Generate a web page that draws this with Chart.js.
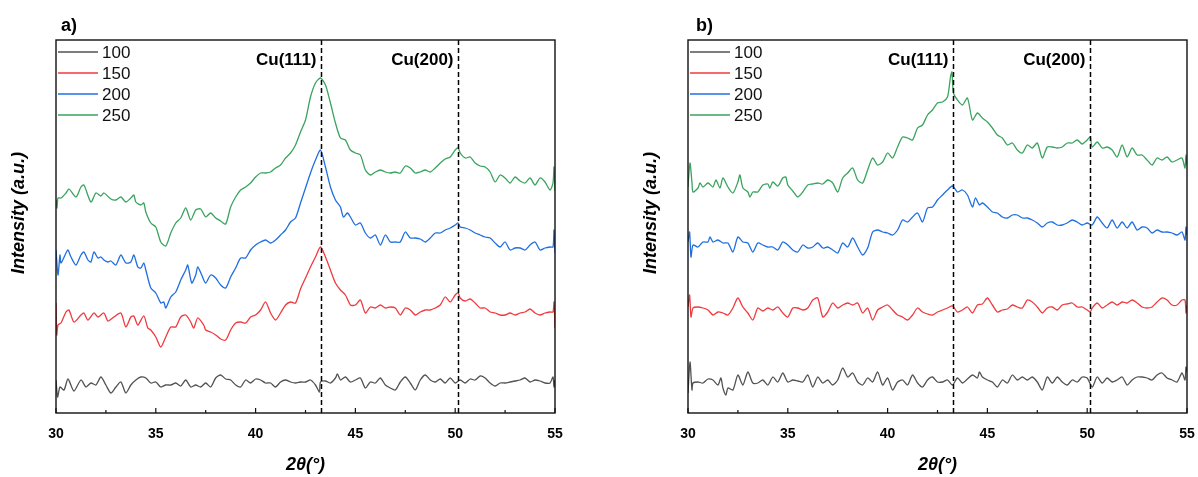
<!DOCTYPE html>
<html><head><meta charset="utf-8">
<script src="https://cdn.jsdelivr.net/npm/chart.js@4.4.1/dist/chart.umd.min.js"></script>
<style>
html,body{margin:0;padding:0;background:#fff;width:1198px;height:477px;overflow:hidden}
#wa{position:absolute;left:0;top:0;width:600px;height:477px}
#wb{position:absolute;left:600px;top:0;width:598px;height:477px}
</style></head><body>
<div id="wa"><canvas id="ca" width="600" height="477"></canvas></div>
<div id="wb"><canvas id="cb" width="598" height="477"></canvas></div>
<script>
// ---------- data ----------
const xTicksMajor = [30, 35, 40, 45, 50, 55];
const seriesNames = ['100', '150', '200', '250'];
const seriesColors = ['#525252', '#f03a3e', '#1f6fe0', '#3aa35e'];
const peakPositions = [43.3, 50.15];
const peakLabels = ['Cu(111)', 'Cu(200)'];

// panel a) : [2θ, intensity (a.u.)]
const a100 = [[30,33],[30.08,16],[30.2,26],[30.4,23],[30.6,34],[30.9,22],[31.25,33],[31.5,26],[31.75,30],[32,28],[32.25,36],[32.5,28],[32.75,20],[33,26],[33.25,31],[33.5,20],[33.75,28],[34,33],[34.25,36],[34.5,35],[34.75,30],[35,31],[35.25,26],[35.5,28],[35.75,28],[36,30],[36.25,27],[36.5,33],[36.75,26],[37,28],[37.25,26],[37.5,30],[37.75,26],[38,35],[38.25,38],[38.5,34],[38.75,33],[39,28],[39.25,26],[39.5,33],[39.75,30],[40,34],[40.25,33],[40.5,30],[40.75,30],[41,26],[41.25,31],[41.5,33],[41.75,31],[42,30],[42.25,31],[42.5,31],[42.75,33],[43,28],[43.2,21],[43.25,31],[43.5,32],[43.75,30],[44,35],[44.1,39],[44.25,33],[44.5,36],[44.75,31],[45,33],[45.25,35],[45.5,25],[45.75,31],[46,30],[46.25,35],[46.5,28],[46.75,25],[47,23],[47.25,31],[47.5,36],[47.75,30],[48,23],[48.25,33],[48.5,38],[48.75,33],[49,31],[49.25,34],[49.5,30],[49.75,35],[50,30],[50.25,33],[50.5,30],[50.75,34],[51,33],[51.25,37],[51.5,35],[51.75,30],[52,27],[52.25,30],[52.5,30],[52.75,31],[53,32],[53.25,33],[53.5,35],[53.75,31],[54,33],[54.25,32],[54.5,30],[54.75,30],[54.9,36],[54.95,26],[55,33]];
const a150 = [[30,110],[30.04,78],[30.1,88],[30.25,90],[30.5,101],[30.65,103],[30.9,91],[31.25,98],[31.4,100],[31.6,93],[31.9,100],[32.1,96],[32.4,100],[32.6,92],[32.9,96],[33.25,100],[33.5,86],[33.75,96],[33.9,97],[34.1,88],[34.4,97],[34.6,85],[34.75,83],[35,76],[35.25,66],[35.5,76],[35.75,86],[36,86],[36.25,96],[36.5,98],[36.75,91],[36.9,85],[37.1,95],[37.4,88],[37.5,83],[37.75,81],[38,78],[38.25,74],[38.5,73],[38.75,83],[39,90],[39.25,91],[39.5,90],[39.75,96],[40,98],[40.25,103],[40.5,111],[40.75,100],[41,93],[41.25,100],[41.5,108],[41.75,111],[42,110],[42.25,124],[42.5,135],[42.75,146],[43,156],[43.25,166],[43.5,156],[43.75,143],[44,130],[44.25,123],[44.5,118],[44.75,108],[45,108],[45.25,113],[45.5,100],[45.75,106],[46,105],[46.25,108],[46.5,105],[46.75,106],[47,105],[47.25,98],[47.5,105],[47.75,103],[48,98],[48.25,101],[48.5,103],[48.75,103],[49,105],[49.25,108],[49.5,116],[49.75,111],[50,118],[50.15,120],[50.25,115],[50.5,112],[50.75,114],[51,110],[51.25,105],[51.5,105],[51.75,101],[52,100],[52.25,98],[52.5,98],[52.75,100],[53,98],[53.25,100],[53.5,101],[53.75,104],[54,100],[54.25,98],[54.5,100],[54.75,101],[54.9,101],[54.95,111],[55,85]];
const a200 = [[30,163],[30.1,138],[30.2,158],[30.25,150],[30.5,160],[30.6,163],[30.75,156],[31,148],[31.25,158],[31.4,161],[31.6,153],[31.75,151],[31.9,161],[32.1,155],[32.25,156],[32.4,153],[32.6,151],[32.75,152],[33,148],[33.25,158],[33.5,150],[33.75,151],[33.9,158],[34.1,146],[34.25,145],[34.4,150],[34.5,143],[34.75,125],[35,120],[35.25,110],[35.4,111],[35.5,105],[35.75,116],[36,121],[36.25,133],[36.5,143],[36.6,148],[36.8,130],[37,138],[37.1,146],[37.3,138],[37.5,130],[37.75,138],[38,135],[38.25,128],[38.5,125],[38.75,136],[39,145],[39.25,155],[39.5,155],[39.75,163],[40,168],[40.25,171],[40.5,173],[40.75,170],[41,173],[41.25,178],[41.5,183],[41.75,191],[42,195],[42.25,210],[42.5,225],[42.75,240],[43,253],[43.25,263],[43.5,246],[43.75,226],[44,213],[44.25,206],[44.4,196],[44.6,200],[44.75,196],[45,188],[45.25,190],[45.5,180],[45.75,175],[46,178],[46.25,168],[46.5,178],[46.75,171],[47,171],[47.25,171],[47.5,181],[47.75,175],[48,175],[48.25,174],[48.5,171],[48.75,175],[49,180],[49.25,180],[49.5,183],[49.75,185],[50,188],[50.15,190],[50.25,186],[50.5,185],[50.75,183],[51,180],[51.25,178],[51.5,176],[51.75,175],[52,170],[52.25,166],[52.5,171],[52.75,163],[53,165],[53.25,165],[53.5,163],[53.75,168],[54,171],[54.25,163],[54.5,165],[54.75,166],[54.9,166],[54.95,183],[55,160]];
const a250 = [[30,213],[30.05,205],[30.1,215],[30.25,215],[30.5,220],[30.65,224],[31,216],[31.25,226],[31.4,228],[31.75,211],[32,220],[32.25,217],[32.4,220],[32.75,214],[33,213],[33.25,216],[33.5,211],[33.75,215],[33.9,218],[34,211],[34.25,208],[34.4,210],[34.5,201],[34.75,190],[35,186],[35.25,171],[35.5,167],[35.75,180],[36,190],[36.25,195],[36.5,205],[36.75,193],[37,203],[37.25,204],[37.5,196],[37.75,200],[38,195],[38.25,192],[38.5,189],[38.75,206],[39,216],[39.25,223],[39.5,226],[39.75,230],[40,236],[40.25,240],[40.5,240],[40.75,241],[41,245],[41.25,248],[41.5,255],[41.75,260],[42,268],[42.25,281],[42.5,293],[42.75,316],[43,330],[43.25,335],[43.5,328],[43.75,310],[44,290],[44.25,275],[44.5,273],[44.75,263],[45,260],[45.25,258],[45.5,243],[45.75,238],[46,241],[46.25,243],[46.5,241],[46.75,240],[47,241],[47.25,240],[47.5,247],[47.75,245],[48,240],[48.25,241],[48.5,243],[48.75,241],[49,245],[49.25,250],[49.5,254],[49.75,256],[50,263],[50.15,265],[50.25,260],[50.5,255],[50.75,256],[51,250],[51.25,247],[51.5,246],[51.75,241],[52,231],[52.25,238],[52.5,235],[52.75,230],[53,236],[53.25,232],[53.5,230],[53.75,235],[54,228],[54.25,235],[54.5,231],[54.75,223],[54.9,230],[54.95,246],[55,222]];

// panel b) : [2θ, intensity (a.u.)]
const b100 = [[30,20],[30.1,51],[30.2,23],[30.25,30],[30.5,31],[30.75,30],[31,34],[31.25,33],[31.5,28],[31.65,35],[31.75,25],[31.9,18],[32,25],[32.25,23],[32.5,38],[32.75,28],[33,41],[33.25,30],[33.5,30],[33.75,33],[34,28],[34.25,36],[34.5,31],[34.75,40],[35,31],[35.25,33],[35.5,32],[35.75,31],[36,38],[36.25,26],[36.5,36],[36.75,30],[37,33],[37.25,28],[37.5,33],[37.75,45],[38,36],[38.25,40],[38.5,31],[38.75,28],[39,35],[39.25,31],[39.5,41],[39.75,28],[40,35],[40.25,23],[40.5,31],[40.75,33],[41,28],[41.25,38],[41.5,30],[41.75,26],[42,33],[42.25,36],[42.5,31],[42.75,31],[43,33],[43.25,28],[43.5,35],[43.75,30],[44,34],[44.25,38],[44.5,35],[44.6,41],[44.75,36],[45,33],[45.25,31],[45.5,26],[45.75,33],[46,30],[46.25,38],[46.5,33],[46.75,36],[47,33],[47.25,36],[47.5,31],[47.75,23],[48,36],[48.25,30],[48.5,36],[48.75,31],[49,28],[49.25,33],[49.5,31],[49.75,36],[50,35],[50.25,26],[50.5,36],[50.75,30],[51,35],[51.25,31],[51.5,33],[51.75,36],[52,28],[52.25,33],[52.5,36],[52.75,36],[53,35],[53.25,33],[53.5,38],[53.75,40],[54,35],[54.25,33],[54.5,31],[54.75,40],[54.9,33],[54.95,46],[55,41]];
const b150 = [[30,106],[30.08,118],[30.15,96],[30.25,105],[30.5,106],[30.75,105],[31,103],[31.25,98],[31.5,101],[31.75,100],[32,98],[32.25,105],[32.5,115],[32.75,106],[33,100],[33.25,93],[33.5,105],[33.75,102],[34,105],[34.25,103],[34.5,106],[34.75,100],[35,96],[35.25,105],[35.5,105],[35.75,103],[36,105],[36.25,113],[36.5,115],[36.75,96],[37,101],[37.25,110],[37.5,105],[37.75,108],[38,110],[38.25,108],[38.5,110],[38.75,100],[39,105],[39.25,93],[39.5,103],[39.75,106],[40,108],[40.25,103],[40.5,98],[40.75,96],[41,93],[41.25,98],[41.5,105],[41.75,101],[42,99],[42.25,98],[42.5,101],[42.75,103],[43,105],[43.25,107],[43.5,101],[43.75,103],[44,106],[44.25,100],[44.5,108],[44.75,109],[45,115],[45.25,108],[45.5,101],[45.75,103],[46,104],[46.25,108],[46.5,106],[46.75,105],[47,113],[47.25,111],[47.5,106],[47.75,100],[48,105],[48.25,106],[48.5,103],[48.75,108],[49,109],[49.25,110],[49.5,106],[49.75,106],[50,103],[50.15,101],[50.25,105],[50.5,110],[50.75,105],[51,108],[51.25,111],[51.5,108],[51.75,111],[52,110],[52.25,113],[52.5,110],[52.75,106],[53,105],[53.25,106],[53.5,111],[53.75,115],[54,113],[54.25,108],[54.5,108],[54.75,113],[54.9,113],[54.95,100],[55,108]];
const b200 = [[30,171],[30.08,181],[30.15,156],[30.25,168],[30.5,166],[30.75,171],[31,171],[31.1,176],[31.25,171],[31.5,173],[31.75,170],[32,170],[32.25,161],[32.5,176],[32.75,171],[33,170],[33.25,161],[33.5,170],[33.75,168],[34,166],[34.25,166],[34.5,163],[34.75,171],[35,168],[35.25,163],[35.5,161],[35.75,168],[36,165],[36.25,166],[36.5,170],[36.75,165],[37,166],[37.25,163],[37.5,160],[37.75,170],[38,166],[38.25,175],[38.5,166],[38.75,158],[39,165],[39.25,181],[39.5,183],[39.75,181],[40,180],[40.25,178],[40.5,183],[40.75,193],[41,191],[41.25,196],[41.5,200],[41.75,191],[42,205],[42.25,206],[42.5,213],[42.75,218],[43,223],[43.25,227],[43.5,221],[43.75,223],[44,218],[44.25,206],[44.4,215],[44.6,208],[44.75,210],[45,206],[45.25,201],[45.5,200],[45.75,196],[46,195],[46.25,198],[46.5,198],[46.75,195],[47,195],[47.25,193],[47.5,190],[47.75,186],[48,190],[48.25,191],[48.5,188],[48.75,188],[49,190],[49.25,193],[49.5,191],[49.75,188],[50,190],[50.25,188],[50.5,196],[50.75,190],[51,185],[51.25,193],[51.5,185],[51.75,191],[52,185],[52.25,191],[52.5,183],[52.75,186],[53,185],[53.25,180],[53.5,183],[53.75,181],[54,181],[54.25,180],[54.5,178],[54.75,181],[54.9,173],[54.95,186],[55,178]];
const b250 = [[30,226],[30.1,250],[30.2,230],[30.25,221],[30.5,225],[30.6,230],[30.75,226],[31,230],[31.25,226],[31.4,233],[31.6,225],[31.75,235],[32,226],[32.25,220],[32.5,231],[32.6,238],[32.75,225],[33,221],[33.1,216],[33.25,221],[33.5,221],[33.75,228],[34,229],[34.1,225],[34.25,231],[34.5,227],[34.75,235],[34.9,236],[35,228],[35.25,222],[35.5,216],[35.75,221],[36,228],[36.25,229],[36.5,230],[36.75,229],[37,233],[37.25,230],[37.5,221],[37.75,235],[38,240],[38.25,245],[38.5,233],[38.75,230],[39,243],[39.25,255],[39.5,248],[39.75,251],[40,260],[40.25,255],[40.5,266],[40.75,276],[41,275],[41.25,273],[41.5,285],[41.75,288],[42,298],[42.25,303],[42.5,310],[42.75,311],[43,316],[43.15,336],[43.22,341],[43.3,320],[43.5,313],[43.75,308],[44,315],[44.25,293],[44.5,300],[44.75,295],[45,291],[45.25,285],[45.5,278],[45.75,275],[46,268],[46.25,270],[46.5,263],[46.75,260],[47,268],[47.25,265],[47.5,270],[47.75,255],[48,266],[48.25,266],[48.5,265],[48.75,266],[49,270],[49.25,270],[49.5,273],[49.75,269],[50,273],[50.15,276],[50.25,266],[50.5,271],[50.75,265],[51,266],[51.25,263],[51.5,256],[51.75,268],[52,256],[52.25,265],[52.5,258],[52.75,258],[53,253],[53.25,248],[53.5,255],[53.75,253],[54,256],[54.25,251],[54.5,253],[54.75,255],[54.9,245],[54.95,258],[55,248]];

// ---------- drawing ----------
Chart.defaults.font.family = '"Liberation Sans", Arial, sans-serif';
Chart.defaults.color = '#000';

const decor = {
  id: 'decor',
  afterDatasetsDraw(chart, args, o) {
    const { ctx, chartArea: a, scales: { x } } = chart;
    ctx.save();
    // reference dashed lines + labels
    peakPositions.forEach((p, i) => {
      const px = Math.round(x.getPixelForValue(p)) + 0.5;
      ctx.setLineDash([5, 3]);
      ctx.strokeStyle = '#000';
      ctx.lineWidth = 1.5;
      ctx.beginPath(); ctx.moveTo(px, a.top); ctx.lineTo(px, a.bottom); ctx.stroke();
      ctx.setLineDash([]);
      ctx.font = 'bold 17px "Liberation Sans", Arial, sans-serif';
      ctx.textAlign = 'right'; ctx.textBaseline = 'middle'; ctx.fillStyle = '#000';
      ctx.fillText(peakLabels[i], px - 5, a.top + 20);
    });
    // frame
    ctx.lineWidth = 1.4; ctx.strokeStyle = '#111';
    ctx.strokeRect(a.left, a.top, a.right - a.left, a.bottom - a.top);
    // inward ticks
    ctx.lineWidth = 1.2;
    x.ticks.forEach(t => {
      const px = x.getPixelForValue(t.value);
      const len = xTicksMajor.includes(t.value) ? 5 : 3;
      ctx.beginPath(); ctx.moveTo(px, a.bottom); ctx.lineTo(px, a.bottom - len); ctx.stroke();
    });
    // legend
    ctx.font = '17px "Liberation Sans", Arial, sans-serif';
    ctx.textAlign = 'left'; ctx.textBaseline = 'middle';
    chart.data.datasets.forEach((d, i) => {
      const yy = 52 + i * 21;
      ctx.strokeStyle = d.borderColor; ctx.lineWidth = 1.5;
      ctx.beginPath(); ctx.moveTo(a.left + 2, yy); ctx.lineTo(a.left + 42, yy); ctx.stroke();
      ctx.fillStyle = '#111';
      ctx.fillText(d.label, a.left + 46, yy + 1);
    });
    // y title
    ctx.save();
    ctx.translate(a.left - 37, 213);
    ctx.rotate(-Math.PI / 2);
    ctx.font = 'italic bold 18px "Liberation Sans", Arial, sans-serif';
    ctx.textAlign = 'center'; ctx.textBaseline = 'middle'; ctx.fillStyle = '#000';
    ctx.fillText('Intensity (a.u.)', 0, 0);
    ctx.restore();
    // panel letter
    ctx.font = 'bold 18px "Liberation Sans", Arial, sans-serif';
    ctx.textAlign = 'left'; ctx.textBaseline = 'middle'; ctx.fillStyle = '#000';
    ctx.fillText(o.letter, a.left + o.letterDx, 26);
    ctx.restore();
  }
};

function makeChart(id, seriesList, letter, padLeft, padRight, letterDx) {
  return new Chart(document.getElementById(id), {
    type: 'line',
    data: {
      datasets: seriesList.map((s, i) => ({
        label: seriesNames[i], data: s, borderColor: seriesColors[i],
        borderWidth: 1.3, pointRadius: 0, tension: 0.25, fill: false
      }))
    },
    options: {
      responsive: false, animation: false, events: [],
      layout: { padding: { left: padLeft, right: padRight, top: 40, bottom: 0 } },
      plugins: { legend: { display: false }, tooltip: { enabled: false }, decor: { letter, letterDx } },
      scales: {
        x: {
          type: 'linear', min: 30, max: 55,
          ticks: {
            stepSize: 2.5, autoSkip: false, maxRotation: 0, padding: 13,
            font: { size: 14, weight: 'bold' }, color: '#000',
            callback: v => xTicksMajor.includes(v) ? String(v) : ''
          },
          grid: { display: false, drawTicks: false },
          border: { display: false },
          title: { display: true, text: '2θ(°)', font: { size: 18, weight: 'bold', style: 'italic' }, color: '#000', padding: { top: 0, bottom: 1 } },
          afterFit: s => { s.height = 64; s.paddingLeft = 0; s.paddingRight = 0; }
        },
        y: { display: false, min: 0, max: 373 }
      }
    },
    plugins: [decor]
  });
}

makeChart('ca', [a100, a150, a200, a250], 'a)', 56, 45, 5);
makeChart('cb', [b100, b150, b200, b250], 'b)', 88, 11, 8);
</script>
</body></html>
